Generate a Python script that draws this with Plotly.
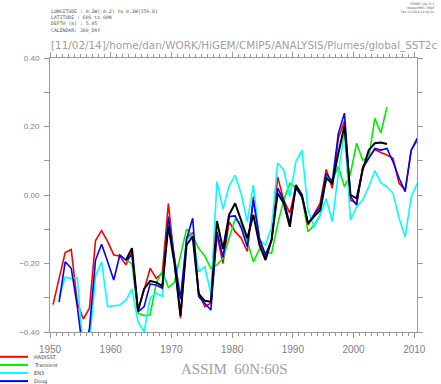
import plotly.graph_objects as go

# ---------------- data (annual means, plotted at mid-year) ----------------
hadisst_years = list(range(1950, 2011))
hadisst = [-0.32, -0.245, -0.168, -0.159, -0.315, -0.362, -0.33, -0.133, -0.104, -0.136,
           -0.175, -0.178, -0.204, -0.165, -0.335, -0.277, -0.214, -0.243, -0.229, -0.025,
           -0.2, -0.36, -0.125, -0.11, -0.285, -0.326, -0.316, -0.117, -0.2, -0.078,
           -0.107, -0.126, -0.165, -0.005, -0.131, -0.18, -0.131, 0.053, -0.015, -0.053,
           0.024, -0.005, -0.088, -0.058, -0.024, 0.075, 0.02, 0.166, 0.216, -0.015,
           -0.024, 0.083, 0.107, 0.133, 0.124, 0.117, 0.107, 0.034, 0.015, 0.131, 0.16]

transient_years = list(range(1962, 2006))
transient = [-0.19, -0.2, -0.345, -0.352, -0.35, -0.258, -0.222, -0.27, -0.255, -0.172,
             -0.099, -0.12, -0.156, -0.178, -0.214, -0.204, -0.185, -0.126, -0.07, -0.083,
             -0.134, -0.195, -0.158, -0.166, -0.17, -0.085, -0.015, 0.034, 0.02, -0.005,
             -0.107, -0.088, -0.058, 0.053, 0.044, 0.083, 0.024, 0.063, 0.151, 0.102,
             0.108, 0.224, 0.181, 0.257]

en3_years = list(range(1951, 2011))
en3 = [-0.299, -0.239, -0.244, -0.241, -0.46, -0.43, -0.236, -0.195, -0.326,
       -0.324, -0.321, -0.307, -0.275, -0.37, -0.40, -0.30, -0.286, -0.296, -0.063,
       -0.184, -0.30, -0.131, -0.117, -0.224, -0.209, -0.289, 0.039, -0.041, 0.026,
       0.058, 0.003, -0.078, 0.029, -0.131, -0.146, -0.093, 0.093, 0.073, -0.005,
       0.097, 0.131, -0.044, -0.093, -0.058, -0.01, -0.078, 0.063, 0.185, -0.073,
       -0.034, -0.015, 0.024, 0.071, 0.036, 0.024, 0.005, -0.068, -0.122, -0.005, 0.034]

doug_years = list(range(1951, 2011))
doug = [-0.313, -0.195, -0.214, -0.326, -0.47, -0.39, -0.19, -0.144, -0.195,
        -0.248, -0.175, -0.19, -0.175, -0.341, -0.326, -0.26, -0.263, -0.272, -0.063,
        -0.185, -0.304, -0.128, -0.068, -0.297, -0.318, -0.336, -0.107, -0.182, -0.063,
        -0.061, -0.096, -0.151, -0.015, -0.126, -0.175, -0.131, 0.02, -0.015, -0.083,
        0.02, -0.005, -0.083, -0.058, -0.034, 0.063, 0.039, 0.18, 0.239, -0.005,
        -0.029, 0.078, 0.107, 0.136, 0.131, 0.136, 0.097, 0.049, 0.01, 0.131, 0.166]

assim_years = list(range(1962, 2006))
assim = [-0.19, -0.155, -0.339, -0.274, -0.251, -0.255, -0.266, -0.09, -0.2, -0.353,
         -0.146, -0.121, -0.289, -0.309, -0.312, -0.076, -0.158, -0.058, -0.024, -0.078,
         -0.126, -0.058, -0.146, -0.19, -0.131, 0.005, -0.024, -0.093, 0.029, 0.0,
         -0.083, -0.063, -0.044, 0.049, 0.034, 0.122, 0.202, 0.0, -0.01, 0.073,
         0.131, 0.151, 0.153, 0.149]

x_ticks = [1950, 1960, 1970, 1980, 1990, 2000, 2010]
y_ticks = [-0.4, -0.2, 0.0, 0.2, 0.4]

series = [
    ("HADISST", hadisst_years, hadisst, "#ff0000"),
    ("Transient", transient_years, transient, "#00ee00"),
    ("EN3", en3_years, en3, "#00ffff"),
    ("Doug", doug_years, doug, "#0000ff"),
    ("ASSIM", assim_years, assim, "#000000"),
]

# ---------------- geometry helpers ----------------
W, H = 441, 384
L, R, T, B = 50, 24, 58, 52
PW, PH = W - L - R, H - T - B


def px(xp):
    return (xp - L) / PW


def py(yp):
    return (H - B - yp) / PH


fig = go.Figure()
for name, yrs, vals, col in series:
    fig.add_trace(go.Scatter(
        x=[y + 0.5 for y in yrs], y=vals, mode="lines", name=name,
        line=dict(color=col, width=2 if col == "#000000" else 1.6),
        showlegend=False, hoverinfo="skip"))

axis_col = "#999999"
fig.update_layout(
    width=W, height=H, autosize=False,
    margin=dict(l=L, r=R, t=T, b=B, pad=0),
    paper_bgcolor="white", plot_bgcolor="white",
    xaxis=dict(range=[1950.0, 2010.45], tickvals=x_ticks, ticks="outside", ticklen=5,
               tickcolor=axis_col, showline=True, linecolor=axis_col, linewidth=1,
               mirror="ticks", showgrid=False, zeroline=False,
               minor=dict(dtick=1, tick0=1950, ticks="outside", ticklen=3, tickcolor=axis_col),
               tickfont=dict(family="Liberation Sans", size=10, color="#808080"),
               ticklabelstandoff=3),
    yaxis=dict(range=[-0.4, 0.4], tickvals=y_ticks, tickformat=".2f", ticks="outside",
               ticklen=5, tickcolor=axis_col, showline=True, linecolor=axis_col, linewidth=1,
               mirror="ticks", showgrid=False, zeroline=False,
               minor=dict(dtick=0.1, tick0=0, ticks="outside", ticklen=5, tickcolor=axis_col),
               tickfont=dict(family="Liberation Sans", size=8, color="#808080"),
               ticklabelstandoff=3),
)

ann = []
hdr_left = ["LONGITUDE : 0.2W(-0.2) to 0.2W(359.8)", "LATITUDE : 60S to 60N",
            "DEPTH (m) : 5.05", "CALENDAR: 360_DAY"]
ann.append(dict(text="<br>".join(hdr_left), x=px(50), y=py(8), xref="paper", yref="paper",
                xanchor="left", yanchor="top", align="left", showarrow=False, borderpad=0,
                font=dict(family="DejaVu Sans Mono", size=4.8, color="#555555")))
hdr_right = ["FERRET Ver. 6.1", "NOAA/PMEL TMAP", "Feb 11 2014 14:04:54"]
ann.append(dict(text="<br>".join(hdr_right), x=px(435), y=py(1), xref="paper", yref="paper",
                xanchor="right", yanchor="top", align="right", showarrow=False, borderpad=0,
                font=dict(family="DejaVu Sans", size=3, color="#555555")))
ann.append(dict(text="[11/02/14]/home/dan/WORK/HiGEM/CMIP5/ANALYSIS/Plumes/global_SST2c",
                x=px(50), y=py(45.5), xref="paper", yref="paper", xanchor="left",
                yanchor="middle", showarrow=False, borderpad=0,
                font=dict(family="DejaVu Sans", size=10.4, color="#a0a0a0")))
ann.append(dict(text="ASSIM  60N:60S", x=px(234), y=py(369), xref="paper", yref="paper",
                xanchor="center", yanchor="middle", showarrow=False, borderpad=0,
                font=dict(family="Liberation Serif", size=15, color="#a0a0a0")))

shapes = []
for i, (name, yrs, vals, col) in enumerate(series[:4]):
    yy = 356.8 + i * 8.1
    shapes.append(dict(type="line", xref="paper", yref="paper", x0=px(0), x1=px(28),
                       y0=py(yy), y1=py(yy), line=dict(color=col, width=2)))
    ann.append(dict(text=name, x=px(33), y=py(yy), xref="paper", yref="paper",
                    xanchor="left", yanchor="middle", showarrow=False, borderpad=0,
                    font=dict(family="DejaVu Sans", size=5, color="#444444")))

fig.update_layout(annotations=ann, shapes=shapes)
fig.write_html("out.html", config={"displayModeBar": False},
               post_script="document.body.style.margin='0px';")
